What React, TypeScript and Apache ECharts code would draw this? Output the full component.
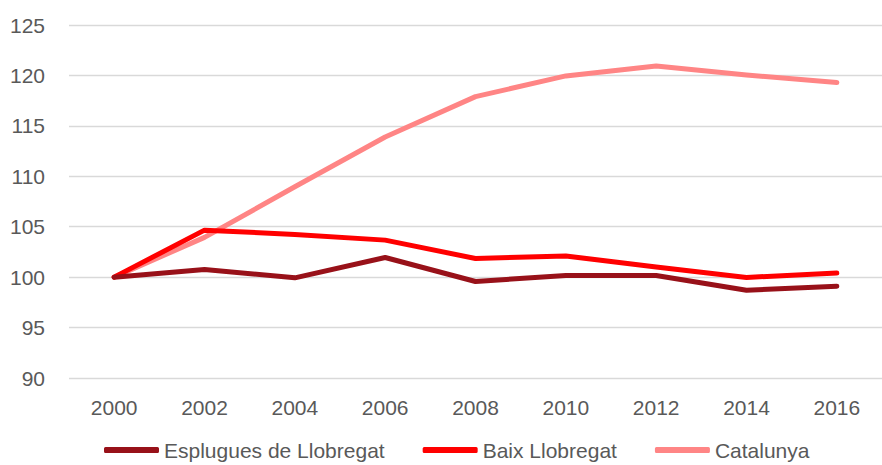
import React, { useEffect, useRef } from "react";
import * as echarts from "echarts";

const years = ["2000", "2002", "2004", "2006", "2008", "2010", "2012", "2014", "2016"];
const esplugues = [100, 100.76, 99.93, 101.95, 99.57, 100.17, 100.17, 98.7, 99.1];
const baix = [100, 104.66, 104.23, 103.67, 101.85, 102.1, 101.0, 99.97, 100.4];
const catalunya = [100, 103.94, 108.96, 113.9, 117.9, 119.95, 120.94, 120.05, 119.3];
const seriesNames = ["Esplugues de Llobregat", "Baix Llobregat", "Catalunya"];
const colors = ["#981119", "#FF0000", "#FF8585"];

const FONT = "'Liberation Sans', Arial, sans-serif";

export default function App() {
  const ref = useRef<HTMLDivElement>(null);
  useEffect(() => {
    if (!ref.current) return;
    const chart = echarts.init(ref.current, undefined, { renderer: "svg" });
    const data = [esplugues, baix, catalunya];
    chart.setOption({
      animation: false,
      grid: { left: 69, right: -8, top: 25, bottom: 87 },
      legend: {
        left: 104,
        top: 438,
        padding: 0,
        itemWidth: 55,
        itemHeight: 6,
        itemGap: 38,
        icon: "roundRect",
        textStyle: { fontFamily: FONT, fontSize: 21, lineHeight: 24, color: "#595959" },
        data: seriesNames,
      },
      xAxis: {
        type: "category",
        data: years,
        boundaryGap: true,
        axisLine: { show: false },
        axisTick: { show: false },
        axisLabel: { fontFamily: FONT, fontSize: 21, color: "#595959", margin: 19 },
      },
      yAxis: {
        type: "value",
        min: 90,
        max: 125,
        interval: 5,
        axisLine: { show: false },
        axisTick: { show: false },
        axisLabel: { fontFamily: FONT, fontSize: 21, color: "#595959", margin: 24 },
        splitLine: { lineStyle: { color: "#D9D9D9", width: 1.3 } },
      },
      series: seriesNames.map((name, i) => ({
        name,
        type: "line",
        data: data[i],
        symbol: "none",
        color: colors[i],
        lineStyle: { width: 5, color: colors[i], cap: "round", join: "round" },
        z: 3 - i,
      })),
    });
    return () => chart.dispose();
  }, []);
  return <div ref={ref} style={{ width: 882, height: 465, position: "absolute", left: 0, top: 0 }} />;
}
